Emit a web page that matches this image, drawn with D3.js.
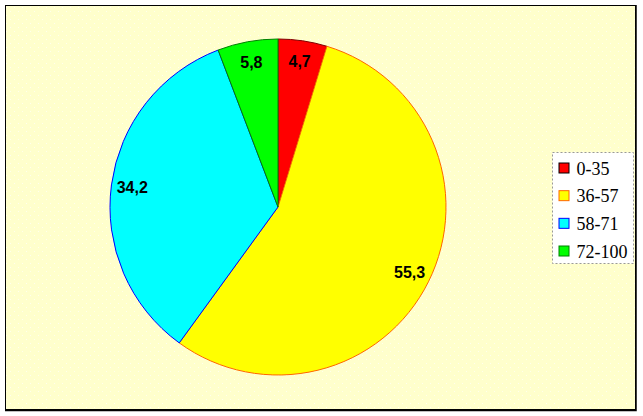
<!DOCTYPE html>
<html>
<head>
<meta charset="utf-8">
<script src="https://cdn.jsdelivr.net/npm/d3@7"></script>
<style>
  body { margin: 0; background: #fff; }
  svg { display: block; }
</style>
</head>
<body>
<div id="chart"></div>
<script>
// data
const categories = ["0-35", "36-57", "58-71", "72-100"];
const values = [4.7, 55.3, 34.2, 5.8];
const fills = ["#ff0000", "#ffff00", "#00ffff", "#00ff00"];
const strokes = ["#800000", "#ff6600", "#0000ff", "#008000"];

const width = 643, height = 416;
const cx = 278, cy = 207, radius = 168;

const svg = d3.select('#chart').append('svg')
	.attr('width', width)
	.attr('height', height);

// background pattern (faint dots like the original)
const defs = svg.append('defs');
const pat = defs.append('pattern')
	.attr('id', 'dots')
	.attr('width', 8).attr('height', 8)
	.attr('patternUnits', 'userSpaceOnUse');
pat.append('rect').attr('width', 8).attr('height', 8).attr('fill', '#ffffcc');
pat.append('rect').attr('x', 2).attr('y', 3).attr('width', 1).attr('height', 1).attr('fill', '#ffffee');
pat.append('rect').attr('x', 6).attr('y', 7).attr('width', 1).attr('height', 1).attr('fill', '#ffffee');

svg.append('rect')
	.attr('x', 5.5).attr('y', 5.5)
	.attr('width', 630).attr('height', 404)
	.attr('fill', 'url(#dots)')
	.attr('stroke', '#000')
	.attr('stroke-width', 1);
// heavier right/bottom edge
svg.append('path')
	.attr('d', 'M636,5V410.5H5')
	.attr('fill', 'none')
	.attr('stroke', '#000')
	.attr('stroke-width', 1.5);

const pie = d3.pie().sort(null).value(d => d);
const arcs = pie(values);
const arc = d3.arc().innerRadius(0).outerRadius(radius);
const labelArc = d3.arc().innerRadius(radius * 0.875).outerRadius(radius * 0.875);

const g = svg.append('g').attr('transform', `translate(${cx},${cy})`);

g.selectAll('path.slice')
	.data(arcs)
	.join('path')
	.attr('class', 'slice')
	.attr('d', arc)
	.attr('fill', (d, i) => fills[i])
	.attr('stroke', (d, i) => strokes[i])
	.attr('stroke-width', 1);

g.selectAll('text.lbl')
	.data(arcs)
	.join('text')
	.attr('class', 'lbl')
	.attr('transform', d => `translate(${labelArc.centroid(d)})`)
	.attr('text-anchor', 'middle')
	.attr('dy', '0.35em')
	.attr('font-family', 'Liberation Sans, Arial, sans-serif')
	.attr('font-weight', 'bold')
	.attr('font-size', 16)
	.text(d => String(d.data).replace('.', ','));

// legend
const lg = svg.append('g').attr('transform', 'translate(552.5,152.5)');
lg.append('rect')
	.attr('width', 81).attr('height', 111)
	.attr('fill', '#fff')
	.attr('stroke', '#999')
	.attr('stroke-dasharray', '2,2');

const rowY = d3.scalePoint().domain(categories).range([16, 99]);

const items = lg.selectAll('g.item')
	.data(categories)
	.join('g')
	.attr('class', 'item')
	.attr('transform', d => `translate(0,${rowY(d)})`);
items.append('rect')
	.attr('x', 6.5).attr('y', -5.5)
	.attr('width', 10).attr('height', 10)
	.attr('fill', (d, i) => fills[i])
	.attr('stroke', (d, i) => i === 0 ? '#000' : strokes[i]);
items.append('text')
	.attr('x', 24)
	.attr('dy', '0.35em')
	.attr('font-family', 'Liberation Serif, Times New Roman, serif')
	.attr('font-size', 18)
	.attr('fill', '#000')
	.text(d => d);
</script>
</body>
</html>
